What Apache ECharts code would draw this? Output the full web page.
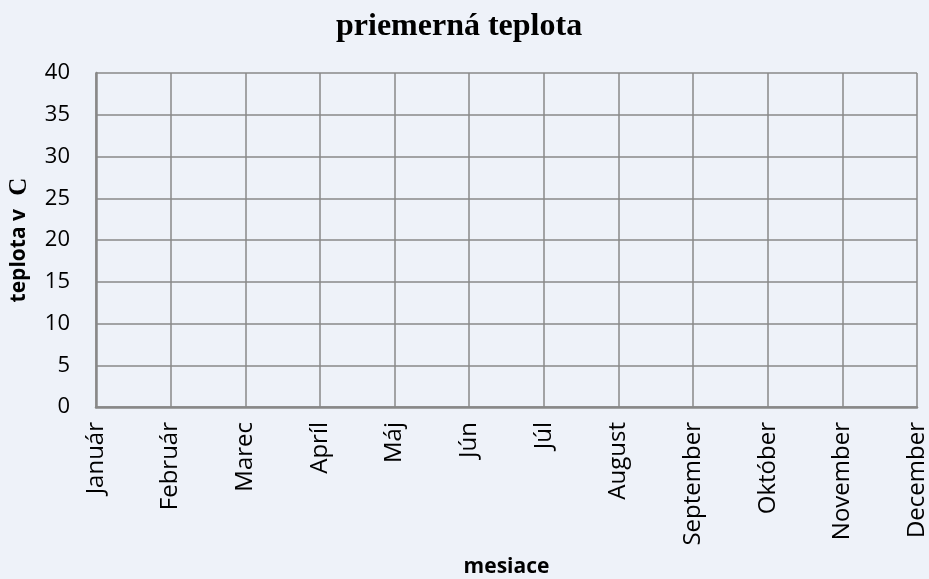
<!DOCTYPE html>
<html><head><meta charset="utf-8">
<script src="https://cdn.jsdelivr.net/npm/echarts@6/dist/echarts.min.js"></script>
<style>html,body{margin:0;padding:0;background:#eef2f9}#c{width:929px;height:579px}</style>
</head><body><div id="c"></div>
<script>
const months = ['Január','Február','Marec','Apríl','Máj','Jún','Júl','August','September','Október','November','December'];
const temperature = [];
const yMin = 0, yMax = 40, yStep = 5;

const chart = echarts.init(document.getElementById('c'));
chart.setOption({
  backgroundColor: '#eef2f9',
  animation: false,
  title: {
    text: 'priemerná teplota', left: 331, top: 6,
    textStyle: {fontFamily: 'Liberation Serif', fontWeight: 'bold', fontSize: 32, color: '#000'}
  },
  grid: {left: 96, right: 12, top: 73, bottom: 172, outerBoundsMode: 'none', containLabel: false},
  xAxis: {
    type: 'category', data: months, boundaryGap: false,
    name: 'mesiace', nameLocation: 'middle', nameGap: 150,
    nameTextStyle: {fontFamily: 'Open Sans', fontWeight: 'bold', fontSize: 21, color: '#000'},
    axisLine: {lineStyle: {color: '#888', width: 2.5}},
    axisTick: {show: false},
    axisLabel: {rotate: 90, margin: 15, interval: 0, fontFamily: 'Open Sans', fontSize: 24, color: '#000'},
    splitLine: {show: true, lineStyle: {color: '#888', width: 1.5}}
  },
  yAxis: {
    type: 'value', min: yMin, max: yMax, interval: yStep,
    name: '{a|teplota v}    {b|C}', nameLocation: 'middle', nameGap: 64,
    nameTextStyle: {rich: {
      a: {fontFamily: 'Open Sans', fontWeight: 'bold', fontSize: 21, color: '#000'},
      b: {fontFamily: 'Liberation Serif', fontWeight: 'bold', fontSize: 25, color: '#000'}
    }},
    axisLine: {show: true, lineStyle: {color: '#888', width: 2.5}},
    axisTick: {show: false},
    axisLabel: {margin: 26, fontFamily: 'Open Sans', fontSize: 22, color: '#000'},
    splitLine: {show: true, lineStyle: {color: '#888', width: 1.5}}
  },
  series: [{type: 'line', data: temperature}]
});
</script></body></html>
